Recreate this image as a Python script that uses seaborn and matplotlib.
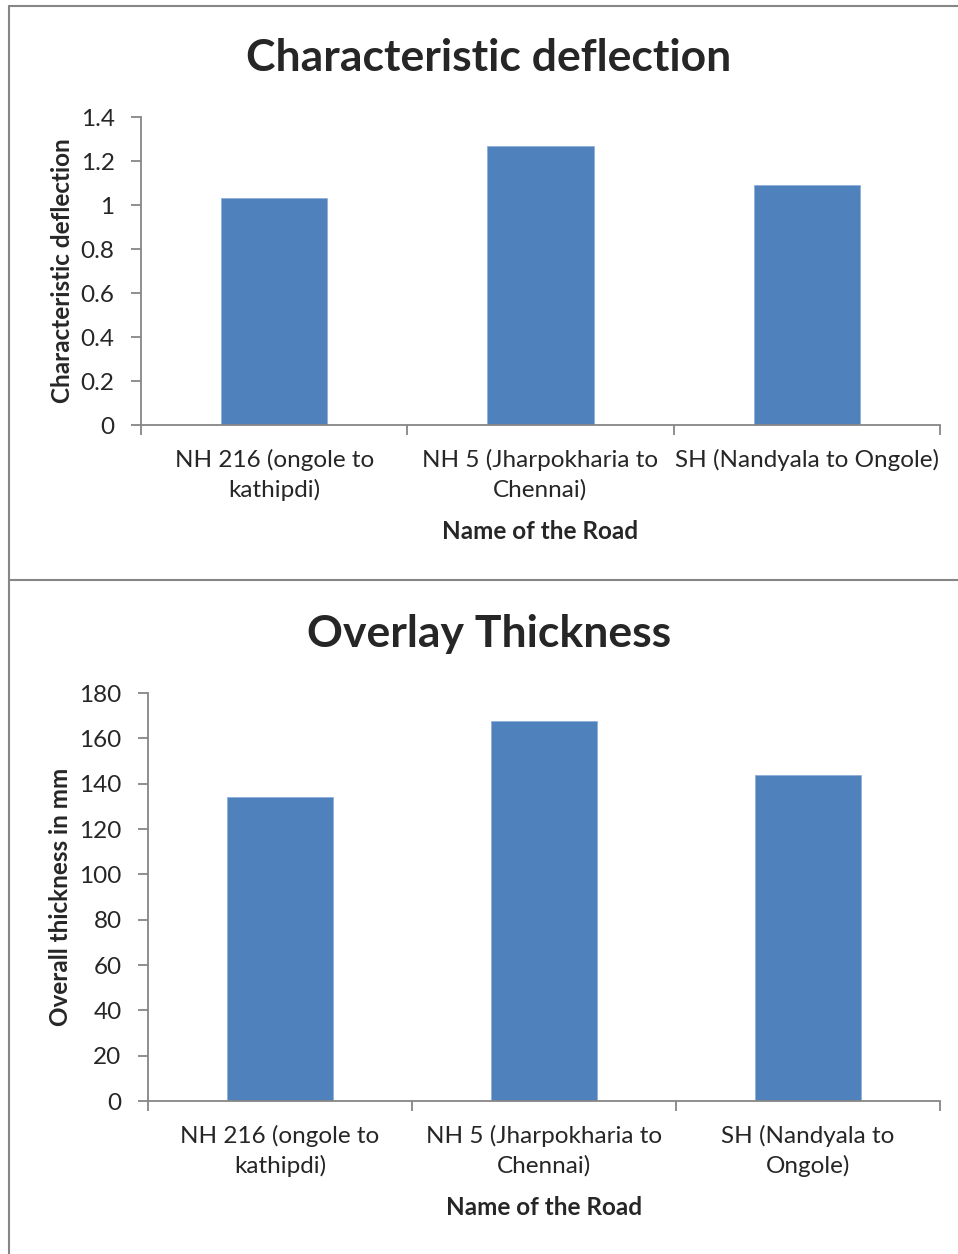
import numpy as np
import pandas as pd
import seaborn as sns
import matplotlib.pyplot as plt
from matplotlib.lines import Line2D

sns.set_style('white')
plt.rcParams['font.family'] = ['Lato', 'DejaVu Sans']

roads = ['NH 216', 'NH 5', 'SH']
labels_top = ['NH 216 (ongole to\nkathipdi)', 'NH 5 (Jharpokharia to\nChennai)', 'SH (Nandyala to Ongole)']
labels_bot = ['NH 216 (ongole to\nkathipdi)', 'NH 5 (Jharpokharia to\nChennai)', 'SH (Nandyala to\nOngole)']
deflection = [1.03, 1.27, 1.09]
thickness = [134, 167.5, 144]

W, H = 958, 1254
fig = plt.figure(figsize=(W / 100, H / 100), dpi=100)
grey = '#868686'
bar_col = '#4F81BD'

def px_axes(left, top, right, bottom):
    return fig.add_axes([left / W, 1 - bottom / H, (right - left) / W, (bottom - top) / H])

def style(ax, labels, ylim, step, ylabel):
    ax.set_xlim(-0.5, 2.5)
    ax.set_ylim(*ylim)
    ax.set_yticks(np.arange(ylim[0], ylim[1] + step / 2, step))
    ax.set_xticks([-0.5, 0.5, 1.5, 2.5])
    ax.set_xticklabels([])
    ax.set_xticks([0, 1, 2], minor=True)
    ax.set_xticklabels(labels, minor=True, fontsize=17.5, linespacing=1.45)
    ax.tick_params(axis='x', which='minor', bottom=True, length=0, pad=17)
    ax.tick_params(axis='x', which='major', bottom=True, length=7, width=1.3, color=grey, direction='out')
    ax.tick_params(axis='y', left=True, length=7, width=1.3, color=grey, direction='out', labelsize=17.5, pad=12)
    for s in ['top', 'right']:
        ax.spines[s].set_visible(False)
    for s in ['left', 'bottom']:
        ax.spines[s].set_color(grey)
        ax.spines[s].set_linewidth(1.3)
    ax.set_xlabel('Name of the Road', fontsize=17.5, fontweight='bold', labelpad=14)
    ax.set_ylabel(ylabel, fontsize=17.5, fontweight='bold', labelpad=5)

ax1 = px_axes(141, 117, 940, 425)
df1 = pd.DataFrame({'road': roads, 'value': deflection})
sns.barplot(data=df1, x='road', y='value', color=bar_col, width=0.4, ax=ax1,
            saturation=1, edgecolor='#8DB0DA', linewidth=0.6)
style(ax1, labels_top, (0, 1.4), 0.2, 'Characteristic deflection')
ax1.set_yticklabels(['0', '0.2', '0.4', '0.6', '0.8', '1', '1.2', '1.4'])
fig.text(489 / W, 1 - 58 / H, 'Characteristic deflection', fontsize=32, fontweight='bold',
         ha='center', va='center')

ax2 = px_axes(148, 693, 940, 1101)
df2 = pd.DataFrame({'road': roads, 'value': thickness})
sns.barplot(data=df2, x='road', y='value', color=bar_col, width=0.4, ax=ax2,
            saturation=1, edgecolor='#8DB0DA', linewidth=0.6)
style(ax2, labels_bot, (0, 180), 20, 'Overall thickness in mm')
fig.text(489 / W, 1 - 634 / H, 'Overlay Thickness', fontsize=32, fontweight='bold',
         ha='center', va='center')

# panel borders
for xs, ys in [([9, 958], [5.5, 5.5]), ([9, 958], [580, 580]), ([9, 9], [5.5, 1254])]:
    fig.add_artist(Line2D([x / W for x in xs], [1 - y / H for y in ys], color=grey, lw=1.5))

fig.savefig('out.png', dpi=100)
